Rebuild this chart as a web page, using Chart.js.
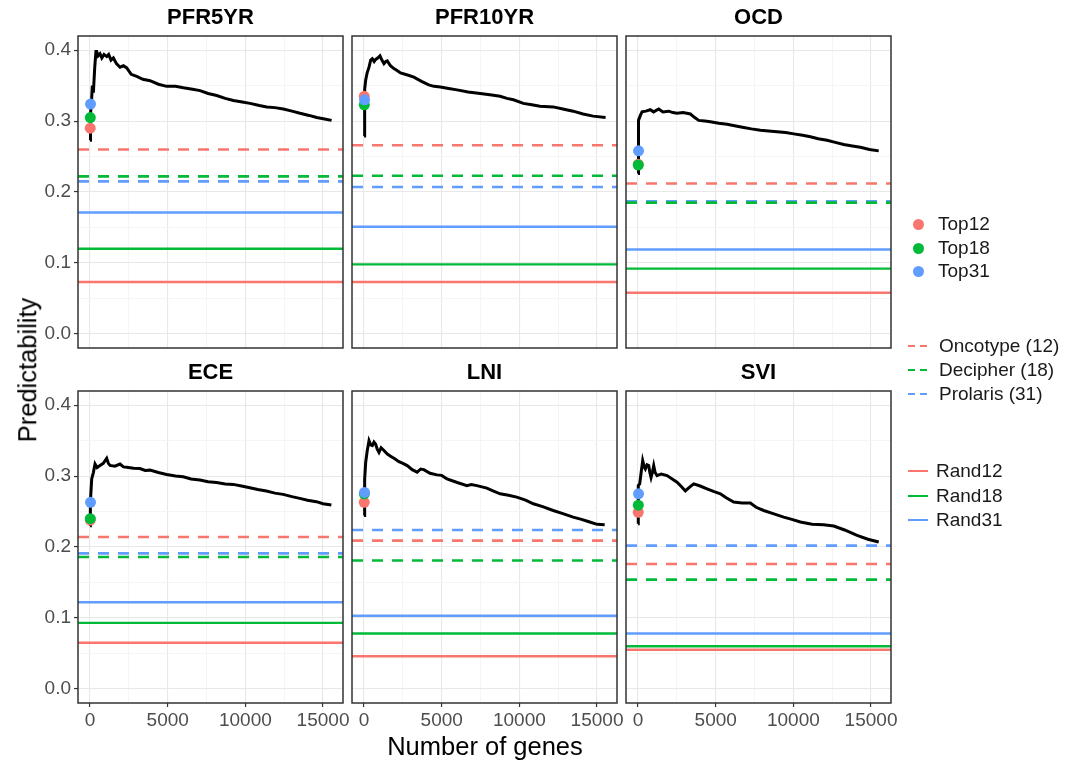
<!DOCTYPE html>
<html>
<head>
<meta charset="utf-8">
<script src="https://cdn.jsdelivr.net/npm/chart.js@4"></script>
<style>
  body { margin: 0; background: #fff; font-family: "Liberation Sans", Arial, sans-serif; }
  #wrap { position: relative; width: 1070px; height: 761px; overflow: hidden; }
  canvas { position: absolute; }
  .axt { position: absolute; font-size: 25.5px; color: #000; white-space: nowrap; line-height: 1; }
  .leg { position: absolute; font-size: 19px; color: #1a1a1a; white-space: nowrap; line-height: 1; }
  .dot { position: absolute; width: 11px; height: 11px; border-radius: 50%; }
  .sw { position: absolute; width: 20px; height: 2.5px; }
</style>
</head>
<body>
<div id="wrap"></div>
<script>
// facets
var panelNames = ['PFR5YR', 'PFR10YR', 'OCD', 'ECE', 'LNI', 'SVI'];

// reference signatures (dashed) and random gene sets (solid), one value per facet
var oncotype = [0.260, 0.266, 0.212, 0.214, 0.209, 0.176];
var decipher = [0.222, 0.223, 0.185, 0.186, 0.181, 0.154];
var prolaris = [0.215, 0.207, 0.187, 0.191, 0.224, 0.202];
var rand12 = [0.073, 0.073, 0.058, 0.065, 0.046, 0.055];
var rand18 = [0.120, 0.098, 0.092, 0.093, 0.078, 0.060];
var rand31 = [0.171, 0.151, 0.119, 0.122, 0.103, 0.078];

// top-n gene points
var topSizes = [12, 18, 31];
var top12 = [0.290, 0.335, 0.239, 0.238, 0.263, 0.249];
var top18 = [0.305, 0.323, 0.238, 0.240, 0.275, 0.259];
var top31 = [0.324, 0.330, 0.258, 0.263, 0.277, 0.275];

// predictability curves
var pfr5yrGenes = [1, 30, 100, 150, 215, 300, 380, 430, 520, 644, 760, 900, 1073, 1200, 1350, 1502, 1700, 1931, 2150, 2361, 2650, 3004, 3400, 3863, 4400, 4936, 5500, 6009, 6600, 7082, 7600, 8155, 8700, 9227, 9800, 10300, 10900, 11373, 11900, 12446, 13000, 13519, 14100, 14592, 15100, 15550];
var pfr5yrPred = [0.273, 0.310, 0.330, 0.350, 0.340, 0.375, 0.398, 0.398, 0.392, 0.395, 0.389, 0.394, 0.391, 0.394, 0.386, 0.389, 0.381, 0.376, 0.378, 0.375, 0.366, 0.363, 0.359, 0.357, 0.352, 0.349, 0.349, 0.347, 0.345, 0.343, 0.339, 0.336, 0.332, 0.329, 0.327, 0.325, 0.322, 0.320, 0.319, 0.317, 0.314, 0.311, 0.308, 0.305, 0.303, 0.301];

var pfr10yrGenes = [1, 20, 60, 107, 200, 320, 430, 534, 650, 748, 880, 1026, 1150, 1282, 1400, 1496, 1700, 1923, 2150, 2351, 2800, 3206, 3700, 4167, 4500, 4915, 5450, 5984, 6700, 7480, 8100, 8762, 9200, 9617, 10258, 10800, 11326, 12181, 12800, 13463, 14100, 14746, 15550];
var pfr10yrPred = [0.279, 0.330, 0.345, 0.358, 0.368, 0.376, 0.386, 0.388, 0.384, 0.387, 0.389, 0.392, 0.386, 0.381, 0.384, 0.385, 0.378, 0.374, 0.371, 0.368, 0.365, 0.362, 0.356, 0.351, 0.349, 0.348, 0.346, 0.344, 0.341, 0.339, 0.337, 0.335, 0.332, 0.330, 0.325, 0.323, 0.321, 0.320, 0.317, 0.314, 0.310, 0.307, 0.305];

var ocdGenes = [1, 15, 43, 150, 257, 500, 793, 1000, 1330, 1600, 1974, 2250, 2511, 2900, 3369, 3650, 3906, 4300, 4657, 5200, 5730, 6300, 6803, 7300, 7876, 8400, 8948, 9500, 10021, 10600, 11094, 11600, 12167, 12700, 13240, 13800, 14313, 14900, 15494];
var ocdPred = [0.226, 0.265, 0.301, 0.308, 0.313, 0.314, 0.316, 0.313, 0.317, 0.313, 0.314, 0.312, 0.311, 0.312, 0.310, 0.305, 0.301, 0.300, 0.299, 0.297, 0.2955, 0.293, 0.291, 0.289, 0.287, 0.286, 0.285, 0.284, 0.282, 0.280, 0.278, 0.275, 0.273, 0.270, 0.267, 0.265, 0.263, 0.260, 0.258];

var eceGenes = [1, 20, 107, 214, 321, 450, 643, 850, 1071, 1180, 1286, 1600, 1929, 2150, 2357, 2800, 3214, 3550, 3857, 4400, 4929, 5500, 6000, 6500, 7071, 7600, 8143, 8700, 9214, 9750, 10286, 10800, 11357, 11900, 12429, 13000, 13500, 14000, 14571, 15000, 15536];
var ecePred = [0.230, 0.263, 0.296, 0.305, 0.317, 0.312, 0.315, 0.318, 0.325, 0.318, 0.315, 0.314, 0.317, 0.313, 0.3126, 0.311, 0.3107, 0.308, 0.3084, 0.305, 0.3023, 0.300, 0.299, 0.296, 0.2944, 0.292, 0.2911, 0.289, 0.2883, 0.286, 0.2836, 0.281, 0.2789, 0.276, 0.2742, 0.271, 0.2686, 0.266, 0.2639, 0.261, 0.2592];

var lniGenes = [1, 20, 60, 107, 200, 320, 430, 534, 640, 748, 850, 962, 1100, 1282, 1500, 1709, 2000, 2244, 2500, 2778, 3100, 3419, 3650, 3846, 4250, 4701, 5000, 5342, 6000, 6624, 6900, 7265, 7906, 8300, 8761, 9300, 9829, 10400, 10897, 11500, 12179, 12800, 13461, 14000, 14530, 15000, 15491];
var lniPred = [0.2445, 0.275, 0.296, 0.3195, 0.335, 0.350, 0.344, 0.343, 0.348, 0.345, 0.338, 0.3335, 0.340, 0.336, 0.331, 0.328, 0.324, 0.3204, 0.318, 0.3148, 0.309, 0.3055, 0.310, 0.3091, 0.304, 0.3017, 0.301, 0.296, 0.291, 0.2866, 0.288, 0.2866, 0.283, 0.279, 0.275, 0.273, 0.2703, 0.266, 0.261, 0.257, 0.2515, 0.247, 0.2422, 0.239, 0.2352, 0.232, 0.2314];

var sviGenes = [1, 15, 107, 200, 300, 400, 472, 580, 687, 760, 837, 920, 1009, 1100, 1223, 1500, 1867, 2200, 2511, 2800, 3047, 3300, 3584, 4000, 4442, 4900, 5300, 5700, 6159, 6700, 7232, 7600, 8090, 8700, 9378, 9900, 10451, 11200, 11953, 12597, 13300, 14099, 14800, 15494];
var sviPred = [0.2328, 0.2866, 0.289, 0.305, 0.3218, 0.313, 0.310, 0.316, 0.3148, 0.305, 0.298, 0.305, 0.3148, 0.305, 0.3007, 0.303, 0.3007, 0.296, 0.2914, 0.285, 0.279, 0.284, 0.289, 0.286, 0.282, 0.278, 0.275, 0.269, 0.2633, 0.262, 0.262, 0.256, 0.2515, 0.247, 0.2422, 0.239, 0.2352, 0.232, 0.2314, 0.2296, 0.224, 0.2164, 0.211, 0.2071];

var curveGenes = [pfr5yrGenes, pfr10yrGenes, ocdGenes, eceGenes, lniGenes, sviGenes];
var curvePred = [pfr5yrPred, pfr10yrPred, ocdPred, ecePred, lniPred, sviPred];

// axes
var xMajor = [0, 5000, 10000, 15000];
var xMinor = [2500, 7500, 12500];
var xTickLabels = ['0', '5000', '10000', '15000'];
var yMajor = [0, 0.1, 0.2, 0.3, 0.4];
var yMinor = [0.05, 0.15, 0.25, 0.35];
var yTickLabels = ['0.0', '0.1', '0.2', '0.3', '0.4'];
var xLimits = [-775, 16285];
var yLimits = [-0.02, 0.42];

var RED = '#F8766D', GREEN = '#00BA38', BLUE = '#619CFF';
var FONT = '"Liberation Sans", Arial, sans-serif';

var panelLeft = [78, 352, 626];
var panelTop = [36, 391];
var panelW = 265, panelH = 312;

var wrap = document.getElementById('wrap');

var panelDecor = {
  id: 'panelDecor',
  afterDatasetsDraw: function (chart, args, opts) {
    var a = chart.chartArea;
    var ctx = chart.ctx;
    ctx.save();
    ctx.strokeStyle = '#333333';
    ctx.lineWidth = 1.5;
    ctx.strokeRect(a.left, a.top, a.right - a.left, a.bottom - a.top);
    ctx.fillStyle = '#000';
    ctx.font = 'bold 22px ' + FONT;
    ctx.textAlign = 'center';
    ctx.textBaseline = 'middle';
    ctx.fillText(opts.text, (a.left + a.right) / 2, a.top - 18);
    ctx.restore();
  }
};

function hline(v, color, dashed) {
  return {
    type: 'scatter',
    data: [{ x: xLimits[0], y: v }, { x: xLimits[1], y: v }],
    showLine: true,
    borderColor: color,
    borderWidth: dashed ? 2.6 : 2.4,
    borderDash: dashed ? [11, 9] : [],
    pointRadius: 0,
    order: 5
  };
}

function topPoint(n, v, color, order) {
  return {
    type: 'scatter',
    data: [{ x: n, y: v }],
    pointRadius: 5.5,
    pointBackgroundColor: color,
    pointBorderWidth: 0,
    order: order
  };
}

function isMajor(list, v) {
  return list.indexOf(v) >= 0;
}

panelNames.forEach(function (name, i) {
  var col = i % 3, row = Math.floor(i / 3);
  var yW = col === 0 ? 60 : 8;
  var xH = row === 1 ? 40 : 20;
  var padTop = 30, padRight = 30;
  var cv = document.createElement('canvas');
  cv.width = yW + panelW + padRight;
  cv.height = padTop + panelH + xH;
  cv.style.left = (panelLeft[col] - yW) + 'px';
  cv.style.top = (panelTop[row] - padTop) + 'px';
  cv.style.width = cv.width + 'px';
  cv.style.height = cv.height + 'px';
  wrap.appendChild(cv);

  var curve = curveGenes[i].map(function (g, k) { return { x: g, y: curvePred[i][k] }; });

  var showX = row === 1, showY = col === 0;

  new Chart(cv.getContext('2d'), {
    type: 'scatter',
    data: {
      datasets: [
        topPoint(topSizes[2], top31[i], BLUE, 0),
        topPoint(topSizes[1], top18[i], GREEN, 1),
        topPoint(topSizes[0], top12[i], RED, 2),
        {
          type: 'scatter',
          data: curve,
          showLine: true,
          borderColor: '#000',
          borderWidth: 3,
          pointRadius: 0,
          tension: 0,
          order: 3
        },
        hline(oncotype[i], RED, true),
        hline(decipher[i], GREEN, true),
        hline(prolaris[i], BLUE, true),
        hline(rand12[i], RED, false),
        hline(rand18[i], GREEN, false),
        hline(rand31[i], BLUE, false)
      ]
    },
    options: {
      responsive: false,
      animation: false,
      layout: { padding: { top: padTop, right: padRight, left: 0, bottom: 0 } },
      plugins: {
        legend: { display: false },
        tooltip: { enabled: false },
        panelDecor: { text: name }
      },
      scales: {
        x: {
          type: 'linear',
          min: xLimits[0],
          max: xLimits[1],
          afterBuildTicks: function (s) {
            s.ticks = xMajor.concat(xMinor).sort(function (a, b) { return a - b; }).map(function (v) { return { value: v }; });
          },
          afterFit: function (s) { s.height = xH; },
          border: { display: false },
          grid: {
            color: function (c) { return isMajor(xMajor, c.tick.value) ? '#e8e8e8' : '#f2f2f2'; },
            lineWidth: function (c) { return isMajor(xMajor, c.tick.value) ? 1.1 : 0.8; },
            drawTicks: showX,
            tickLength: 4,
            tickColor: function (c) { return isMajor(xMajor, c.tick.value) ? '#333333' : 'rgba(0,0,0,0)'; },
            tickWidth: 1.2
          },
          ticks: {
            display: showX,
            autoSkip: false,
            maxRotation: 0,
            padding: 2,
            color: '#4d4d4d',
            font: { family: FONT, size: 19 },
            callback: function (v) {
              var k = xMajor.indexOf(v);
              return k >= 0 ? xTickLabels[k] : '';
            }
          }
        },
        y: {
          type: 'linear',
          min: yLimits[0],
          max: yLimits[1],
          afterBuildTicks: function (s) {
            s.ticks = yMajor.concat(yMinor).sort(function (a, b) { return a - b; }).map(function (v) { return { value: v }; });
          },
          afterFit: function (s) { s.width = yW; },
          border: { display: false },
          grid: {
            color: function (c) { return isMajor(yMajor, c.tick.value) ? '#e8e8e8' : '#f2f2f2'; },
            lineWidth: function (c) { return isMajor(yMajor, c.tick.value) ? 1.1 : 0.8; },
            drawTicks: showY,
            tickLength: 4,
            tickColor: function (c) { return isMajor(yMajor, c.tick.value) ? '#333333' : 'rgba(0,0,0,0)'; },
            tickWidth: 1.2
          },
          ticks: {
            display: showY,
            autoSkip: false,
            padding: 3,
            color: '#4d4d4d',
            font: { family: FONT, size: 19 },
            callback: function (v) {
              var k = yMajor.indexOf(v);
              return k >= 0 ? yTickLabels[k] : '';
            }
          }
        }
      }
    },
    plugins: [panelDecor]
  });
});

// axis titles
var xt = document.createElement('div');
xt.className = 'axt';
xt.textContent = 'Number of genes';
xt.style.left = '485px';
xt.style.top = '747px';
xt.style.transform = 'translate(-50%, -50%)';
wrap.appendChild(xt);

var yt = document.createElement('div');
yt.className = 'axt';
yt.textContent = 'Predictability';
yt.style.left = '28px';
yt.style.top = '370px';
yt.style.transform = 'translate(-50%, -50%) rotate(-90deg)';
wrap.appendChild(yt);

// legends
var pointLegend = [['Top12', RED, 224], ['Top18', GREEN, 248], ['Top31', BLUE, 271]];
var dashLegend = [['Oncotype (12)', RED, 346], ['Decipher (18)', GREEN, 370], ['Prolaris (31)', BLUE, 394]];
var solidLegend = [['Rand12', RED, 471], ['Rand18', GREEN, 496], ['Rand31', BLUE, 520]];

function addText(txt, x, y) {
  var t = document.createElement('div');
  t.className = 'leg';
  t.textContent = txt;
  t.style.left = x + 'px';
  t.style.top = (y - 10) + 'px';
  wrap.appendChild(t);
}

pointLegend.forEach(function (e) {
  var d = document.createElement('div');
  d.className = 'dot';
  d.style.background = e[1];
  d.style.left = (918 - 5.5) + 'px';
  d.style.top = (e[2] - 5.5) + 'px';
  wrap.appendChild(d);
  addText(e[0], 938, e[2]);
});

dashLegend.forEach(function (e) {
  var s = document.createElement('div');
  s.className = 'sw';
  s.style.left = '908px';
  s.style.top = (e[2] - 1.25) + 'px';
  s.style.background = 'repeating-linear-gradient(to right, ' + e[1] + ' 0 7px, transparent 7px 12px)';
  wrap.appendChild(s);
  addText(e[0], 939, e[2]);
});

solidLegend.forEach(function (e) {
  var s = document.createElement('div');
  s.className = 'sw';
  s.style.left = '908px';
  s.style.top = (e[2] - 1.25) + 'px';
  s.style.background = e[1];
  wrap.appendChild(s);
  addText(e[0], 936, e[2]);
});
</script>
</body>
</html>
